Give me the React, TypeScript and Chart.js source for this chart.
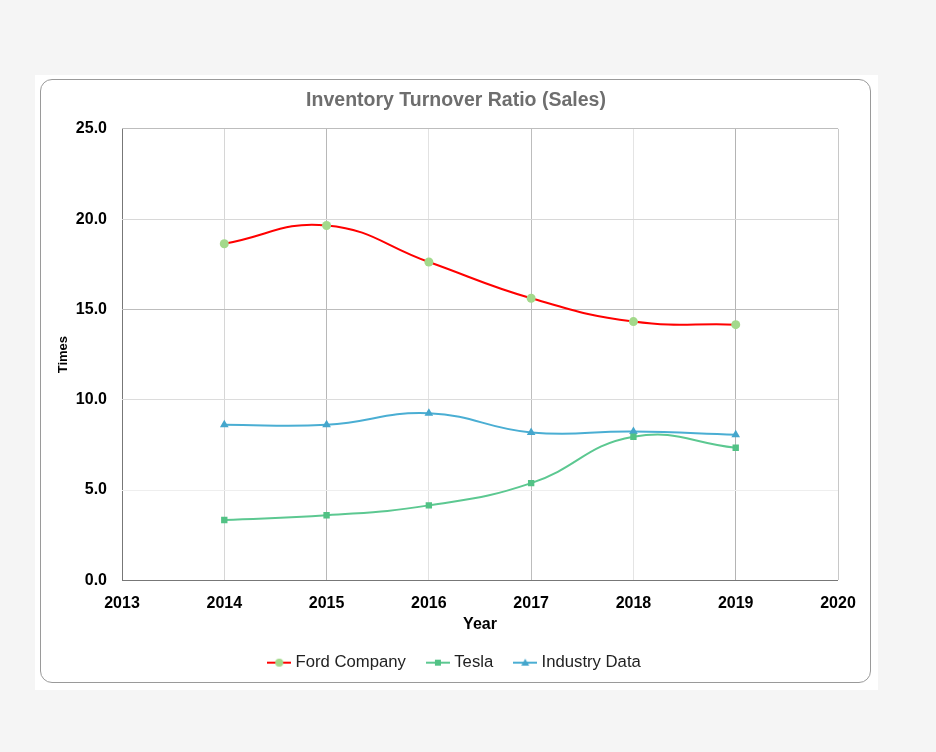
import { useEffect, useRef } from "react";
import { Chart, registerables } from "chart.js";

Chart.register(...registerables);

const years = [2014, 2015, 2016, 2017, 2018, 2019];
const ford = [18.64, 19.65, 17.63, 15.62, 14.33, 14.16];
const tesla = [3.34, 3.6, 4.15, 5.38, 7.95, 7.34];
const industry = [8.61, 8.61, 9.25, 8.19, 8.24, 8.06];

const FONT = "'Liberation Sans', Arial, sans-serif";

// vertical gridlines in the original alternate between light and darker grey
const xGridColors: Record<number, string> = {
  2013: "#777777",
  2014: "#d6d6d6",
  2015: "#b8b8b8",
  2016: "#e2e2e2",
  2017: "#bdbdbd",
  2018: "#e4e4e4",
  2019: "#b4b4b4",
  2020: "#c8c8c8",
};
const yGridColors: Record<number, string> = {
  0: "#777777",
  5: "#eeeeee",
  10: "#dcdcdc",
  15: "#bdbdbd",
  20: "#d8d8d8",
  25: "#bdbdbd",
};

function legendMarker(line: string, fill: string, shape: "circle" | "rect" | "triangle") {
  const c = document.createElement("canvas");
  c.width = 24;
  c.height = 10;
  const g = c.getContext("2d")!;
  g.strokeStyle = line;
  g.lineWidth = 2;
  g.beginPath();
  g.moveTo(0, 5);
  g.lineTo(24, 5);
  g.stroke();
  g.fillStyle = fill;
  g.beginPath();
  if (shape === "circle") g.arc(12, 5, 4, 0, Math.PI * 2);
  else if (shape === "rect") g.rect(9, 2, 6, 6);
  else {
    g.moveTo(12, 1);
    g.lineTo(16, 8);
    g.lineTo(8, 8);
    g.closePath();
  }
  g.fill();
  return c;
}

export default function App() {
  const canvasRef = useRef<HTMLCanvasElement>(null);

  useEffect(() => {
    const canvas = canvasRef.current;
    if (!canvas) return;

    const markers = [
      legendMarker("#ff0000", "#a3d98b", "circle"),
      legendMarker("#5cc891", "#52c285", "rect"),
      legendMarker("#4aaed3", "#45a6cc", "triangle"),
    ];

    const chart = new Chart(canvas, {
      type: "line",
      data: {
        datasets: [
          {
            label: "Ford Company",
            data: years.map((x, i) => ({ x, y: ford[i] })),
            borderColor: "#ff0000",
            borderWidth: 2,
            pointStyle: "circle",
            pointRadius: 4.5,
            pointBackgroundColor: "#a3d98b",
            pointBorderWidth: 0,
            tension: 0.45,
          },
          {
            label: "Tesla",
            data: years.map((x, i) => ({ x, y: tesla[i] })),
            borderColor: "#5cc891",
            borderWidth: 2,
            pointStyle: "rect",
            pointRadius: 4.5,
            pointBackgroundColor: "#52c285",
            pointBorderWidth: 0,
            tension: 0.45,
          },
          {
            label: "Industry Data",
            data: years.map((x, i) => ({ x, y: industry[i] })),
            borderColor: "#4aaed3",
            borderWidth: 2,
            pointStyle: "triangle",
            pointRadius: 5,
            pointBackgroundColor: "#45a6cc",
            pointBorderWidth: 0,
            tension: 0.45,
          },
        ],
      },
      options: {
        animation: false,
        responsive: false,
        maintainAspectRatio: false,
        layout: { padding: { left: 33, right: 32, top: 0, bottom: 1 } },
        plugins: {
          title: {
            display: true,
            text: "Inventory Turnover Ratio (Sales)",
            color: "#6e6e6e",
            font: { family: FONT, size: 19.5, weight: "bold" },
            padding: { top: 8.5, bottom: 17 },
          },
          legend: {
            position: "bottom",
            labels: {
              usePointStyle: true,
              pointStyleWidth: 16,
              padding: 24,
              color: "#222222",
              font: { family: FONT, size: 16.7 },
              generateLabels(ch) {
                return ch.data.datasets.map((ds, i) => ({
                  text: ds.label as string,
                  pointStyle: markers[i],
                  datasetIndex: i,
                  hidden: false,
                  fontColor: "#222222",
                  lineWidth: 0,
                  strokeStyle: "transparent",
                  fillStyle: "transparent",
                }));
              },
            },
          },
          tooltip: { enabled: false },
        },
        scales: {
          x: {
            type: "linear",
            min: 2013,
            max: 2020,
            ticks: {
              stepSize: 1,
              padding: 14,
              color: "#000000",
              font: { family: FONT, size: 16, weight: "bold" },
              callback: (v) => String(v),
            },
            grid: {
              drawTicks: false,
              color: (ctx) => xGridColors[ctx.tick?.value as number] ?? "#d9d9d9",
            },
            border: { display: false },
            title: {
              display: true,
              text: "Year",
              color: "#000000",
              font: { family: FONT, size: 16, weight: "bold" },
              padding: { top: 2, bottom: -4 },
            },
            afterFit(scale) {
              scale.height = 50;
            },
          },
          y: {
            min: 0,
            max: 25,
            ticks: {
              stepSize: 5,
              padding: 15,
              color: "#000000",
              font: { family: FONT, size: 16, weight: "bold" },
              callback: (v) => Number(v).toFixed(1),
            },
            grid: {
              drawTicks: false,
              color: (ctx) => yGridColors[ctx.tick?.value as number] ?? "#d9d9d9",
            },
            border: { display: false },
            title: {
              display: true,
              text: "Times",
              color: "#000000",
              font: { family: FONT, size: 13, weight: "bold" },
              padding: { top: -18, bottom: 0 },
            },
            afterFit(scale) {
              scale.width = 48;
            },
          },
        },
      },
    });

    return () => {
      chart.destroy();
    };
  }, []);

  return (
    <div
      style={{
        position: "fixed",
        inset: 0,
        background: "#f5f5f5",
      }}
    >
      <div
        style={{
          position: "absolute",
          left: 35,
          top: 75,
          width: 843,
          height: 615,
          background: "#ffffff",
        }}
      >
        <div
          style={{
            position: "absolute",
            left: 5,
            top: 4,
            width: 831,
            height: 604,
            border: "1px solid #9a9a9a",
            borderRadius: 12,
            boxSizing: "border-box",
            overflow: "hidden",
          }}
        >
          <canvas
            ref={canvasRef}
            width={829}
            height={602}
            style={{ display: "block", width: 829, height: 602 }}
            role="img"
            aria-label="Line chart of inventory turnover ratio for Ford, Tesla and industry, 2014-2019"
          />
        </div>
      </div>
    </div>
  );
}
